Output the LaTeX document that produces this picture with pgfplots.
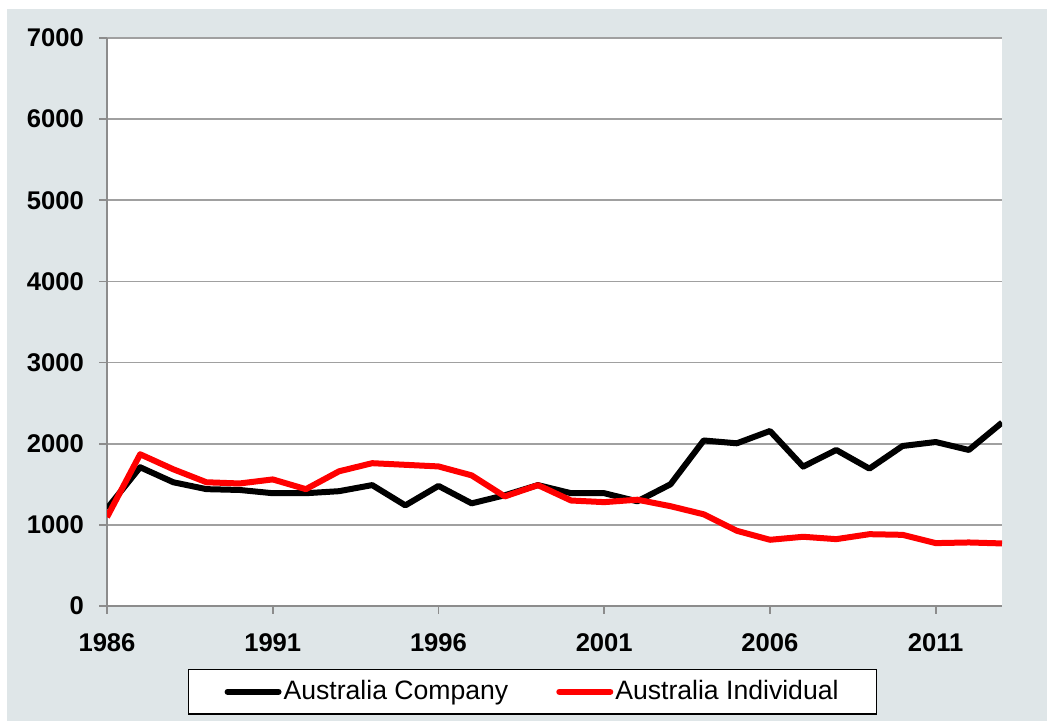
\documentclass[border=0pt]{standalone}
\usepackage{pgfplots}
\pgfplotsset{compat=1.18}
\usepackage{fontspec}
\setmainfont{Liberation Sans}
\definecolor{bgc}{HTML}{DFE6E8}
\definecolor{gridc}{HTML}{A0A0A0}
\definecolor{axc}{HTML}{8C8C8C}
\pgfplotstableread{
year company individual
1986 1200 1095
1987 1710 1870
1988 1525 1685
1989 1440 1525
1990 1430 1510
1991 1390 1560
1992 1390 1440
1993 1415 1660
1994 1490 1760
1995 1240 1740
1996 1480 1720
1997 1265 1610
1998 1365 1350
1999 1490 1490
2000 1390 1300
2001 1390 1280
2002 1290 1310
2003 1500 1230
2004 2040 1130
2005 2005 927
2006 2157 816
2007 1718 853
2008 1923 824
2009 1693 885
2010 1972 877
2011 2021 775
2012 1923 783
2013 2260 771
}\datatable
\begin{document}
\begin{tikzpicture}
\path[use as bounding box] (0,0) rectangle (523.5pt,360.5pt);
\fill[bgc] (3.5pt,0) rectangle (523.5pt,356pt);
\begin{axis}[
  at={(53.5pt,57.5pt)}, anchor=south west,
  width=447.5pt, height=284pt, scale only axis,
  axis background/.style={fill=white},
  xmin=1986, xmax=2013, ymin=0, ymax=7000,
  xtick={1986,1991,1996,2001,2006,2011},
  ytick={0,1000,2000,3000,4000,5000,6000,7000},
  xticklabel style={/pgf/number format/1000 sep={}},
  /pgf/number format/1000 sep={},
  /pgf/number format/assume math mode=true,
  ticklabel style={font=\fontsize{12.8}{14}\selectfont\bfseries},
  axis x line*=bottom, axis y line*=left,
  axis line style={draw=axc, line width=0.8pt, -},
  tick align=outside,
  major tick length=4pt,
  tick style={draw=axc, line width=0.8pt},
  ymajorgrids, grid style={draw=gridc, line width=0.8pt},
  xticklabel style={yshift=-6.5pt},
  yticklabel style={xshift=-4pt},
  legend columns=2,
  legend style={at={(0.4755,-0.151)}, anchor=center, draw=black, line width=0.7pt, fill=white,
    font=\fontsize{13.3}{15}\selectfont, inner xsep=18pt, inner ysep=3.5pt,
    nodes={inner xsep=1pt, inner ysep=2pt},
    /tikz/every even column/.append style={column sep=23pt}},
  legend image code/.code={\draw[#1, line width=3pt, line cap=round] (1.5pt,0pt) -- (27pt,0pt);},
]
\addplot[black, line width=3pt, line join=round] table[x=year, y=company] {\datatable};
\addlegendentry{Australia Company}
\addplot[red, line width=3pt, line join=round] table[x=year, y=individual] {\datatable};
\addlegendentry{Australia Individual}
\end{axis}
\end{tikzpicture}
\end{document}
